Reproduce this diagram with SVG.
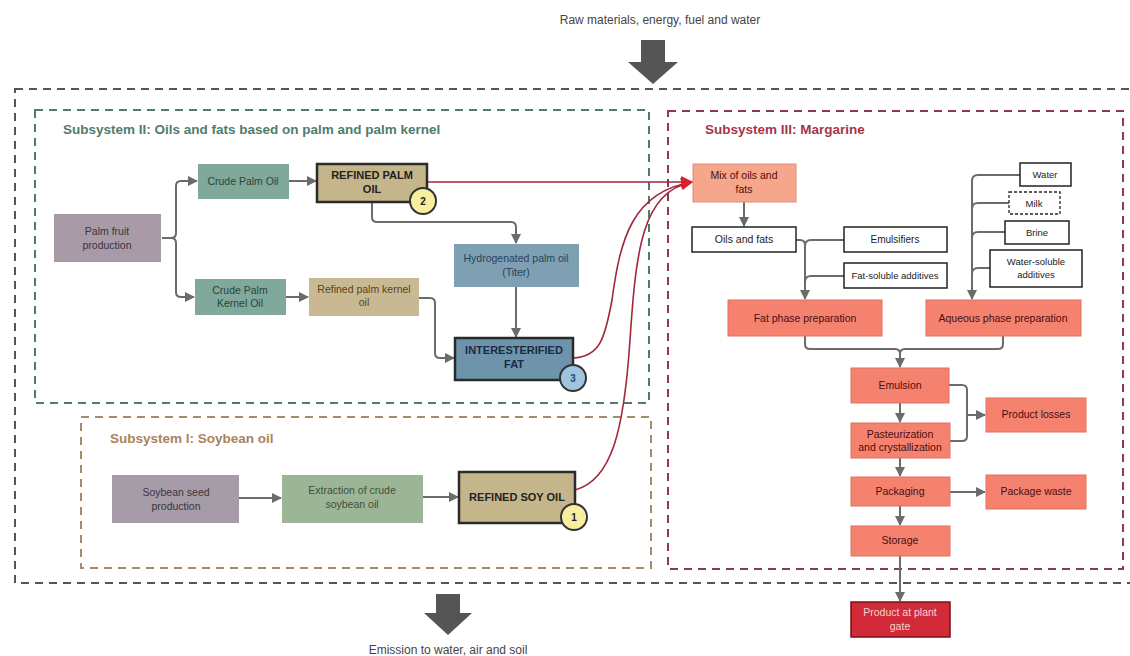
<svg xmlns="http://www.w3.org/2000/svg" width="1130" height="656" viewBox="0 0 1130 656">
<defs>
<style>
text{font-family:"Liberation Sans",Arial,sans-serif;font-size:10.5px;text-anchor:middle;fill:#333}
.title{font-size:13.5px;font-weight:bold;text-anchor:start}
.lbl{font-size:12px;fill:#444}
.bold{font-weight:bold;font-size:11px;fill:#222}
.c{fill:none;stroke:#6b6b6b;stroke-width:2}
.cr{fill:none;stroke:#a0283c;stroke-width:1.6}
.w{fill:#fff;stroke:#222;stroke-width:1.5}
.m{fill:#f4826f;stroke:#e07060;stroke-width:1}
.mt{fill:#4a0e10}
.thick{stroke:#2a2a2a;stroke-width:2.5}
.badge{stroke:#333;stroke-width:2}
</style>
<marker id="ag" viewBox="0 0 10 10" refX="9" refY="5" markerWidth="10" markerHeight="10" markerUnits="userSpaceOnUse" orient="auto"><path d="M0,0 L10,5 L0,10 z" fill="#6b6b6b"/></marker>
<marker id="ar" viewBox="0 0 10 10" refX="9" refY="5" markerWidth="12" markerHeight="12" markerUnits="userSpaceOnUse" orient="auto"><path d="M0,0 L10,5 L0,10 z" fill="#d8202e"/></marker>
</defs>
<rect width="1130" height="656" fill="#fff"/>

<!-- boundaries -->
<g id="boundaries" fill="none" stroke-width="2" stroke-dasharray="8,6">
<rect x="15" y="89" width="1125" height="494" stroke="#555"/>
<rect x="35" y="110" width="614" height="293" stroke="#4f7a6d"/>
<rect x="668" y="111" width="455" height="458" stroke="#8b3a4f"/>
<rect x="81" y="417" width="570" height="151" stroke="#a68c6a"/>
</g>

<!-- titles -->
<g id="titles">
<text x="660" y="24" class="lbl">Raw materials, energy, fuel and water</text>
<text x="448" y="654" class="lbl">Emission to water, air and soil</text>
<text x="63" y="134" class="title" style="fill:#4f7d6d">Subsystem II: Oils and fats based on palm and palm kernel</text>
<text x="705" y="134" class="title" style="fill:#a8344a">Subsystem III: Margarine</text>
<text x="110" y="443" class="title" style="fill:#a8845e">Subsystem I: Soybean oil</text>
</g>

<!-- big arrows -->
<g id="io-arrows" fill="#555">
<path d="M641,40 H665 V62 H678 L653,84 L628,62 H641 Z"/>
<path d="M436,594 H460 V613 H472 L448,635 L424,613 H436 Z"/>
</g>

<!-- connectors -->
<g id="connectors">
<path class="c" d="M162,238 H171 Q176,238 176,233 V186 Q176,181 181,181 H197" marker-end="url(#ag)"/>
<path class="c" d="M171,238 Q176,238 176,243 V292 Q176,297 181,297 H194" marker-end="url(#ag)"/>
<path class="c" d="M289,181 H316" marker-end="url(#ag)"/>
<path class="c" d="M286,297 H308" marker-end="url(#ag)"/>
<path class="c" d="M372,202 V217 Q372,222 377,222 H511 Q516,222 516,227 V243" marker-end="url(#ag)"/>
<path class="c" d="M516,287 V337" marker-end="url(#ag)"/>
<path class="c" d="M419,298 H430 Q435,298 435,303 V353 Q435,358 440,358 H454" marker-end="url(#ag)"/>
<path class="c" d="M239,498 H281" marker-end="url(#ag)"/>
<path class="c" d="M423,497 H458" marker-end="url(#ag)"/>

<path class="cr" d="M427,182 H692" marker-end="url(#ar)"/>
<path class="cr" d="M573,358 C600,357 605,338 612,300 C620,240 632,192 692,182" marker-end="url(#ar)"/>
<path class="cr" d="M575,490 C612,480 624,430 630,340 C636,250 642,192 692,182" marker-end="url(#ar)"/>

<path class="c" d="M744,202 V226" marker-end="url(#ag)"/>
<path class="c" d="M796,240 H800 Q805,240 805,245 V299" marker-end="url(#ag)"/>
<path class="c" d="M844,240 H811 Q805,240 805,246"/>
<path class="c" d="M844,276 H811 Q805,276 805,282"/>
<path class="c" d="M1020,175 H978 Q972,175 972,181 V299" marker-end="url(#ag)"/>
<path class="c" d="M1009,203 H978 Q972,203 972,209"/>
<path class="c" d="M1005,232 H978 Q972,232 972,238"/>
<path class="c" d="M990,268 H978 Q972,268 972,274"/>
<path class="c" d="M805,336 V344 Q805,349 810,349 H895 Q900,349 900,354 V367" marker-end="url(#ag)"/>
<path class="c" d="M1003,336 V344 Q1003,349 998,349 H905 Q900,349 900,354"/>
<path class="c" d="M900,403 V422" marker-end="url(#ag)"/>
<path class="c" d="M900,458 V476" marker-end="url(#ag)"/>
<path class="c" d="M900,506 V525" marker-end="url(#ag)"/>
<path class="c" d="M900,556 V601" marker-end="url(#ag)"/>
<path class="c" d="M949,385 H962 Q967,385 967,390 V436 Q967,441 962,441 H950"/>
<path class="c" d="M967,415 H985" marker-end="url(#ag)"/>
<path class="c" d="M950,492 H985" marker-end="url(#ag)"/>
</g>

<!-- Subsystem II nodes -->
<g id="palm-fruit"><rect x="54" y="214" width="107" height="48" fill="#a89ba7"/><text x="107" y="235" style="fill:#3a3440">Palm fruit</text><text x="107" y="249" style="fill:#3a3440">production</text></g>
<g id="crude-palm-oil"><rect x="198" y="164" width="91" height="35" fill="#80a89b"/><text x="243" y="185" style="fill:#27463f">Crude Palm Oil</text></g>
<g id="refined-palm-oil"><rect x="317" y="164" width="110" height="38" fill="#c5b58b" class="thick"/><text x="372" y="179" class="bold">REFINED PALM</text><text x="372" y="193" class="bold">OIL</text>
<circle cx="423" cy="201" r="13" fill="#f7ee9f" class="badge"/><text x="423" y="205" class="bold" style="font-size:10px">2</text></g>
<g id="crude-palm-kernel"><rect x="195" y="279" width="91" height="36" fill="#80a89b"/><text x="240" y="294" style="fill:#27463f">Crude Palm</text><text x="240" y="307" style="fill:#27463f">Kernel Oil</text></g>
<g id="refined-palm-kernel"><rect x="309" y="278" width="110" height="38" fill="#c8b992"/><text x="364" y="293" style="fill:#5a4220">Refined palm kernel</text><text x="364" y="306" style="fill:#5a4220">oil</text></g>
<g id="hydrogenated"><rect x="454" y="244" width="125" height="43" fill="#7f9fb2"/><text x="516" y="262" style="fill:#27445e">Hydrogenated palm oil</text><text x="516" y="276" style="fill:#27445e">(Titer)</text></g>
<g id="interesterified"><rect x="455" y="338" width="118" height="42" fill="#6e94ab" class="thick"/><text x="514" y="354" class="bold" style="fill:#1a2a44">INTERESTERIFIED</text><text x="514" y="368" class="bold" style="fill:#1a2a44">FAT</text>
<circle cx="573" cy="378" r="13" fill="#9ec4e0" class="badge"/><text x="573" y="382" class="bold" style="font-size:10px;fill:#2a4a70">3</text></g>

<!-- Subsystem I nodes -->
<g id="soybean-seed"><rect x="112" y="475" width="127" height="48" fill="#a59ca8"/><text x="176" y="496" style="fill:#3a3440">Soybean seed</text><text x="176" y="510" style="fill:#3a3440">production</text></g>
<g id="extraction"><rect x="282" y="475" width="141" height="48" fill="#9db597"/><text x="352" y="494" style="fill:#3d5238">Extraction of crude</text><text x="352" y="508" style="fill:#3d5238">soybean oil</text></g>
<g id="refined-soy-oil"><rect x="459" y="472" width="116" height="51" fill="#c5b58b" class="thick"/><text x="517" y="501" class="bold">REFINED SOY OIL</text>
<circle cx="574" cy="517" r="13" fill="#f7ee9f" class="badge"/><text x="574" y="521" class="bold" style="font-size:10px">1</text></g>

<!-- Subsystem III nodes -->
<g id="mix"><rect x="693" y="164" width="103" height="38" fill="#f5a68b" stroke="#d89080" stroke-width="1"/><text x="744" y="179" class="mt">Mix of oils and</text><text x="744" y="193" class="mt">fats</text></g>
<g id="oils-fats"><rect x="692" y="227" width="104" height="25" class="w"/><text x="744" y="243" style="fill:#222">Oils and fats</text></g>
<g id="emulsifiers"><rect x="844" y="227" width="103" height="25" class="w"/><text x="895" y="243" style="font-size:10px;fill:#222">Emulsifiers</text></g>
<g id="fat-soluble"><rect x="844" y="263" width="103" height="25" class="w"/><text x="895" y="279" style="font-size:9.5px;fill:#222">Fat-soluble additives</text></g>
<g id="water"><rect x="1020" y="163" width="51" height="23" class="w"/><text x="1045" y="178" style="font-size:9.5px;fill:#222">Water</text></g>
<g id="milk"><rect x="1009" y="192" width="51" height="22" fill="#fff" stroke="#222" stroke-width="1.3" stroke-dasharray="3,2"/><text x="1034" y="207" style="font-size:9.5px;fill:#222">Milk</text></g>
<g id="brine"><rect x="1005" y="221" width="64" height="23" class="w"/><text x="1037" y="236" style="font-size:9.5px;fill:#222">Brine</text></g>
<g id="water-soluble"><rect x="990" y="250" width="92" height="37" class="w"/><text x="1036" y="265" style="font-size:9.5px;fill:#222">Water-soluble</text><text x="1036" y="278" style="font-size:9.5px;fill:#222">additives</text></g>
<g id="fat-phase"><rect x="728" y="300" width="154" height="36" class="m"/><text x="805" y="322" class="mt">Fat phase preparation</text></g>
<g id="aqueous-phase"><rect x="926" y="300" width="155" height="36" class="m"/><text x="1003" y="322" class="mt">Aqueous phase preparation</text></g>
<g id="emulsion"><rect x="851" y="368" width="98" height="35" class="m"/><text x="900" y="389" class="mt">Emulsion</text></g>
<g id="pasteurization"><rect x="851" y="423" width="99" height="35" class="m"/><text x="900" y="438" class="mt">Pasteurization</text><text x="900" y="451" class="mt">and crystallization</text></g>
<g id="packaging"><rect x="851" y="477" width="99" height="29" class="m"/><text x="900" y="495" class="mt">Packaging</text></g>
<g id="storage"><rect x="851" y="526" width="99" height="30" class="m"/><text x="900" y="544" class="mt">Storage</text></g>
<g id="product-gate"><rect x="851" y="602" width="99" height="35" fill="#d22a38" stroke="#7a1018" stroke-width="1.5"/><text x="900" y="616" style="fill:#f7d2d2">Product at plant</text><text x="900" y="630" style="fill:#f7d2d2">gate</text></g>
<g id="product-losses"><rect x="986" y="398" width="100" height="34" class="m"/><text x="1036" y="418" class="mt">Product losses</text></g>
<g id="package-waste"><rect x="986" y="475" width="100" height="34" class="m"/><text x="1036" y="495" class="mt">Package waste</text></g>
</svg>
